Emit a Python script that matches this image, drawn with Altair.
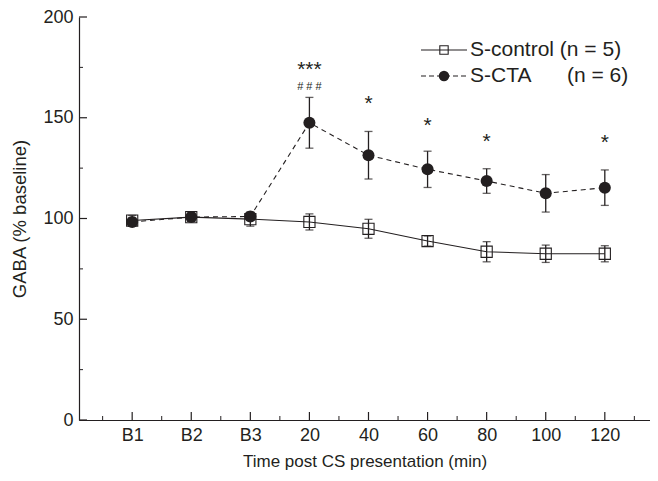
import json
import altair as alt
import pandas as pd

# ---------------- data ----------------
time_labels = ["B1", "B2", "B3", "20", "40", "60", "80", "100", "120"]
ctrl_mean = [99.0, 100.7, 99.7, 98.3, 94.9, 88.8, 83.5, 82.5, 82.5]
ctrl_sem = [2.5, 2.0, 3.5, 4.0, 4.7, 2.5, 5.0, 4.3, 4.0]
cta_mean = [98.3, 100.7, 101.0, 147.5, 131.4, 124.4, 118.6, 112.5, 115.3]
cta_sem = [2.0, 2.0, 2.0, 12.6, 11.8, 9.0, 6.1, 9.3, 8.8]

# significance marks: position index, text, vertical position (% baseline)
star_idx = [3, 4, 5, 6, 8]
star_text = ["***", "*", "*", "*", "*"]
star_y = [175.4, 158.3, 147.5, 139.3, 138.8]
hash_idx = [3]
hash_text = ["# # #"]
hash_y = [166.3]

y_major = [0, 50, 100, 150, 200]
y_minor = [25, 75, 125, 175]
x_major = list(range(len(time_labels)))
x_minor = [i - 0.5 for i in range(len(time_labels) + 1)]

INK = "#231f20"
FONT = "Liberation Sans"
W, H = 571, 403

idx = list(range(len(time_labels)))
ctrl = pd.DataFrame({
    "idx": idx, "mean": ctrl_mean,
    "lo": [m - s for m, s in zip(ctrl_mean, ctrl_sem)],
    "hi": [m + s for m, s in zip(ctrl_mean, ctrl_sem)],
})
cta = pd.DataFrame({
    "idx": idx, "mean": cta_mean,
    "lo": [m - s for m, s in zip(cta_mean, cta_sem)],
    "hi": [m + s for m, s in zip(cta_mean, cta_sem)],
})
stars = pd.DataFrame({"idx": star_idx, "txt": star_text, "y": star_y})
hashes = pd.DataFrame({"idx": hash_idx, "txt": hash_text, "y": hash_y})

label_expr = "datum.value % 1 == 0 ? " + json.dumps(time_labels) + "[datum.value] : ''"

x_axis = alt.Axis(
    values=x_major, labelExpr=label_expr, ticks=False, tickSize=0, grid=False,
    title="Time post CS presentation (min)", labelFont=FONT, labelFontSize=18,
    labelColor=INK, labelPadding=6, titleFont=FONT, titleFontSize=17,
    titleFontWeight="normal", titleColor=INK, titlePadding=9,
    domainColor=INK, domainWidth=1.2,
)
y_axis = alt.Axis(
    values=y_major, ticks=False, tickSize=0, grid=False,
    title="GABA (% baseline)", labelFont=FONT, labelFontSize=18,
    labelColor=INK, labelPadding=6, titleFont=FONT, titleFontSize=18.5,
    titleFontWeight="normal", titleColor=INK, titlePadding=13,
    domainColor=INK, domainWidth=1.2,
)
x_scale = alt.Scale(domain=[-0.9, -0.9 + W / 59.08], nice=False, zero=False)
y_scale = alt.Scale(domain=[0, 200], nice=False, zero=True)


def X(field="idx"):
    return alt.X(f"{field}:Q", scale=x_scale, axis=x_axis)


def Y(field):
    return alt.Y(f"{field}:Q", scale=y_scale, axis=y_axis)


# control series
c_line = alt.Chart(ctrl).mark_line(color=INK, strokeWidth=1.1).encode(x=X(), y=Y("mean"))
c_err = alt.Chart(ctrl).mark_rule(color=INK, strokeWidth=1.3).encode(x=X(), y=Y("lo"), y2="hi")
c_cap_lo = alt.Chart(ctrl).mark_tick(color=INK, orient="horizontal", size=8, thickness=1.3).encode(x=X(), y=Y("lo"))
c_cap_hi = alt.Chart(ctrl).mark_tick(color=INK, orient="horizontal", size=8, thickness=1.3).encode(x=X(), y=Y("hi"))
c_pts = alt.Chart(ctrl).mark_point(shape="square", filled=False, color=INK, size=125,
                                   strokeWidth=1.1, opacity=1).encode(x=X(), y=Y("mean"))

# CTA series
t_line = alt.Chart(cta).mark_line(color=INK, strokeWidth=1.1, strokeDash=[5, 4]).encode(x=X(), y=Y("mean"))
t_err = alt.Chart(cta).mark_rule(color=INK, strokeWidth=1.3).encode(x=X(), y=Y("lo"), y2="hi")
t_cap_lo = alt.Chart(cta).mark_tick(color=INK, orient="horizontal", size=8, thickness=1.3).encode(x=X(), y=Y("lo"))
t_cap_hi = alt.Chart(cta).mark_tick(color=INK, orient="horizontal", size=8, thickness=1.3).encode(x=X(), y=Y("hi"))
t_pts = alt.Chart(cta).mark_point(shape="circle", filled=True, color=INK, size=145,
                                  opacity=1).encode(x=X(), y=Y("mean"))

# significance text
star_layer = alt.Chart(stars).mark_text(font=FONT, fontSize=21, color=INK, baseline="alphabetic",
                                        dy=9).encode(x=X(), y=Y("y"), text="txt:N")
hash_layer = alt.Chart(hashes).mark_text(font=FONT, fontSize=11, color=INK, baseline="alphabetic",
                                         dy=5).encode(x=X(), y=Y("y"), text="txt:N")

# inward axis ticks
xt_major = alt.Chart(pd.DataFrame({"t": x_major})).mark_rule(color=INK, strokeWidth=1.2).encode(
    x=X("t"), y=alt.value(H), y2=alt.value(H - 8))
xt_minor = alt.Chart(pd.DataFrame({"t": x_minor})).mark_rule(color=INK, strokeWidth=1.0).encode(
    x=X("t"), y=alt.value(H), y2=alt.value(H - 4))
yt_major = alt.Chart(pd.DataFrame({"v": y_major})).mark_rule(color=INK, strokeWidth=1.2).encode(
    y=Y("v"), x=alt.value(0), x2=alt.value(8))
yt_minor = alt.Chart(pd.DataFrame({"v": y_minor})).mark_rule(color=INK, strokeWidth=1.0).encode(
    y=Y("v"), x=alt.value(0), x2=alt.value(4))

# legend (drawn by hand)
one = pd.DataFrame({"a": [0]})
lg_y1, lg_y2 = 33, 59
lg_l1 = alt.Chart(one).mark_rule(color=INK, strokeWidth=1.1).encode(
    x=alt.value(342), x2=alt.value(388), y=alt.value(lg_y1))
lg_p1 = alt.Chart(one).mark_point(shape="square", filled=False, color=INK, size=70, strokeWidth=1.1,
                                  opacity=1).encode(x=alt.value(365), y=alt.value(lg_y1))
lg_t1 = alt.Chart(one).mark_text(text="S-control (n = 5)", font=FONT, fontSize=21, color=INK,
                                 align="left", baseline="middle").encode(x=alt.value(391), y=alt.value(lg_y1))
lg_l2 = alt.Chart(one).mark_rule(color=INK, strokeWidth=1.1, strokeDash=[5, 3]).encode(
    x=alt.value(342), x2=alt.value(388), y=alt.value(lg_y2))
lg_p2 = alt.Chart(one).mark_point(shape="circle", filled=True, color=INK, size=110,
                                  opacity=1).encode(x=alt.value(365), y=alt.value(lg_y2))
lg_t2 = alt.Chart(one).mark_text(text="S-CTA", font=FONT, fontSize=21, color=INK,
                                 align="left", baseline="middle").encode(x=alt.value(391), y=alt.value(lg_y2))
lg_t3 = alt.Chart(one).mark_text(text="(n = 6)", font=FONT, fontSize=21, color=INK,
                                 align="left", baseline="middle").encode(x=alt.value(488), y=alt.value(lg_y2))

chart = alt.layer(
    c_line, c_err, c_cap_lo, c_cap_hi, c_pts,
    t_line, t_err, t_cap_lo, t_cap_hi, t_pts,
    star_layer, hash_layer,
    xt_major, xt_minor, yt_major, yt_minor,
    lg_l1, lg_p1, lg_t1, lg_l2, lg_p2, lg_t2, lg_t3,
).properties(
    width=W, height=H,
    padding={"left": 71, "top": 9, "right": 0, "bottom": 53},
    autosize=alt.AutoSizeParams(type="none"),
    background="white",
).configure_view(stroke=None)

chart.save("out.html", embed_options={"renderer": "svg", "actions": False})
